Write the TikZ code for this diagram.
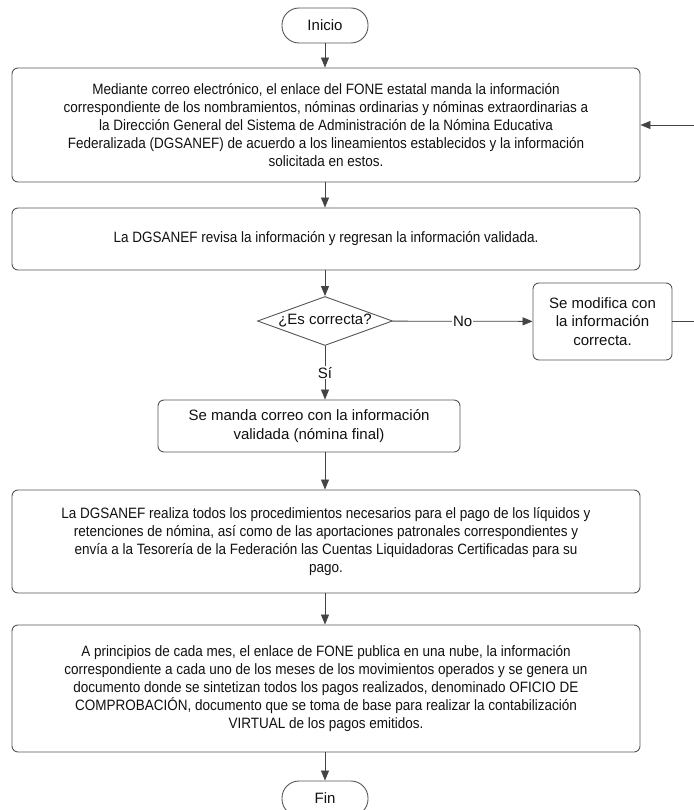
\documentclass[tikz,border=0pt]{standalone}
\usepackage{fontspec}
\setmainfont{Liberation Sans}
\newfontfamily\condfont[FakeStretch=0.9]{Liberation Sans}
\usetikzlibrary{shapes.geometric,arrows.meta}
\definecolor{bordc}{HTML}{555555}
\definecolor{linec}{HTML}{444444}
\definecolor{txtc}{HTML}{111111}
\begin{document}
\begin{tikzpicture}[x=1pt,y=-1pt,
  every node/.style={font=\fontsize{15}{18.8}\selectfont, text=txtc},
  procbox/.style={draw=bordc, line width=0.9pt, rounded corners=6pt, align=center, inner sep=0pt},
  bigtext/.style={font=\condfont\fontsize{15}{17.8}\selectfont},
  termbox/.style={draw=bordc, line width=0.9pt, rounded corners=17pt, minimum width=86pt, minimum height=35pt, inner sep=0pt},
  decbox/.style={draw=bordc, line width=0.9pt, diamond, aspect=2.7, minimum width=135pt, minimum height=49pt, inner sep=0pt},
  flow/.style={draw=linec, line width=0.8pt, -{Triangle[length=10pt,width=8pt]}},
  lbl/.style={fill=white, inner sep=1pt}
]
\useasboundingbox (0,0) rectangle (693,810);
\node[termbox] (ini) at (325,25.5) {Inicio};
\node[procbox, bigtext, minimum width=628pt, minimum height=114pt] (b1) at (326,125)
 {Mediante correo electrónico, el enlace del FONE estatal manda la información\\
  correspondiente de los nombramientos, nóminas ordinarias y nóminas extraordinarias a\\
  la Dirección General del Sistema de Administración de la Nómina Educativa\\
  Federalizada (DGSANEF) de acuerdo a los lineamientos establecidos y la información\\
  solicitada en estos.};
\node[procbox, bigtext, minimum width=628pt, minimum height=62pt] (b2) at (326,239)
 {La DGSANEF revisa la información y regresan la información validada.};
\node[decbox] (dec) at (325,321) {¿Es correcta?};
\node[procbox, minimum width=139pt, minimum height=77pt] (mod) at (602.5,321.5)
 {Se modifica con\\la información\\correcta.};
\node[procbox, minimum width=302pt, minimum height=52pt] (b3) at (309,426)
 {Se manda correo con la información\\validada (nómina final)};
\node[procbox, bigtext, minimum width=628pt, minimum height=103pt] (b4) at (326,541.5)
 {La DGSANEF realiza todos los procedimientos necesarios para el pago de los líquidos y\\
  retenciones de nómina, así como de las aportaciones patronales correspondientes y\\
  envía a la Tesorería de la Federación las Cuentas Liquidadoras Certificadas para su\\
  pago.};
\node[procbox, bigtext, minimum width=628pt, minimum height=127pt] (b5) at (326,688.5)
 {A principios de cada mes, el enlace de FONE publica en una nube, la información\\
  correspondiente a cada uno de los meses de los movimientos operados y se genera un\\
  documento donde se sintetizan todos los pagos realizados, denominado OFICIO DE\\
  COMPROBACIÓN, documento que se toma de base para realizar la contabilización\\
  VIRTUAL de los pagos emitidos.};
\node[termbox] (fin) at (325,798.5) {Fin};
\draw[flow] (ini) -- (ini |- b1.north);
\draw[flow] (ini |- b1.south) -- (ini |- b2.north);
\draw[flow] (ini |- b2.south) -- (dec);
\draw[flow] (dec) -- node[lbl] {No} (mod);
\draw[flow] (dec) -- node[lbl] {Sí} (dec.south |- b3.north);
\draw[flow] (mod.east) -- ++(30,0) |- (b1.east);
\draw[flow] (dec.south |- b3.south) -- (dec.south |- b4.north);
\draw[flow] (dec.south |- b4.south) -- (dec.south |- b5.north);
\draw[flow] (dec.south |- b5.south) -- (fin);
\end{tikzpicture}
\end{document}
